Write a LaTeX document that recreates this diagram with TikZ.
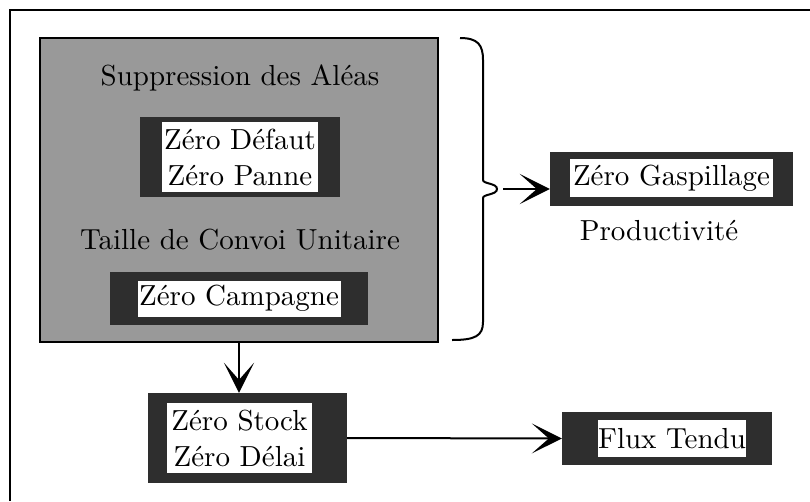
\documentclass[tikz,border=0pt]{standalone}
\usepackage{fontspec}
\setmainfont{lmroman10-regular.otf}
\usetikzlibrary{positioning,arrows.meta}

\begin{document}
\begin{tikzpicture}[x=1pt, y=-1pt,
    txt/.style={font=\fontsize{29}{36}\selectfont, align=center},
    darkbox/.style={fill=black!82, inner sep=0pt},
    whitebox/.style={txt, fill=white, inner sep=0pt},
    link/.style={line width=2pt, -{Stealth[length=30pt, width=30pt, inset=17pt]}}]
    \useasboundingbox (0,0) rectangle (810,501);
    % frame (runs off the page on the right and at the bottom)
    \draw[line width=2pt] (10,501) -- (10,10) -- (810,10);

    % grey block
    \node[fill=black!40, draw, line width=1.5pt, inner sep=0pt,
          minimum width=398pt, minimum height=304pt] (alea) at (239,190) {};
    \node[txt] (supp) at (240,78) {Suppression des Aléas};
    \node[darkbox, minimum width=200pt, minimum height=80pt] (defaut) at (240,157) {};
    \node[whitebox, minimum width=156pt, minimum height=70pt] (defaut-t) at (defaut) {Zéro Défaut\\Zéro Panne};
    \node[txt] (convoi) at (240,240) {Taille de Convoi Unitaire};
    \node[darkbox, minimum width=258pt, minimum height=53pt] (campagne) at (239,298.5) {};
    \node[whitebox, minimum width=203pt, minimum height=36pt] (campagne-t) at (campagne) {Zéro Campagne};

    % brace
    \coordinate (bracetip) at (497,189);
    \draw[line width=2pt] (460,38) .. controls (478,38) and (483,45) .. (483,60) -- (483,180)
        .. controls (483,184) and (497,183) .. (bracetip)
        .. controls (497,195) and (483,194) .. (483,198) -- (483,322)
        .. controls (483,336) and (475,340) .. (452,340);

    % right side
    \node[darkbox, minimum width=243pt, minimum height=54pt] (gasp) at (671.5,179) {};
    \node[whitebox, minimum width=203pt, minimum height=38pt] (gasp-t) at (671.5,178) {Zéro Gaspillage};
    \node[txt] (prod) at (659,231) {Productivité};

    % bottom row
    \node[darkbox, minimum width=199pt, minimum height=90pt] (stock) at (247.5,438) {};
    \node[whitebox, minimum width=145pt, minimum height=70pt] (stock-t) at (239.5,438) {Zéro Stock\\Zéro Délai};
    \node[darkbox, minimum width=210pt, minimum height=53pt] (flux) at (667,438.5) {};
    \node[whitebox, minimum width=146pt, minimum height=37pt] (flux-t) at (672,438.5) {Flux Tendu};

    \draw[link] ([xshift=6pt]bracetip) -- (bracetip -| gasp.west);
    \draw[link] (alea.south) -- (alea.south |- stock.north);
    \draw[link] (stock.east) -- (flux.west);
\end{tikzpicture}
\end{document}
